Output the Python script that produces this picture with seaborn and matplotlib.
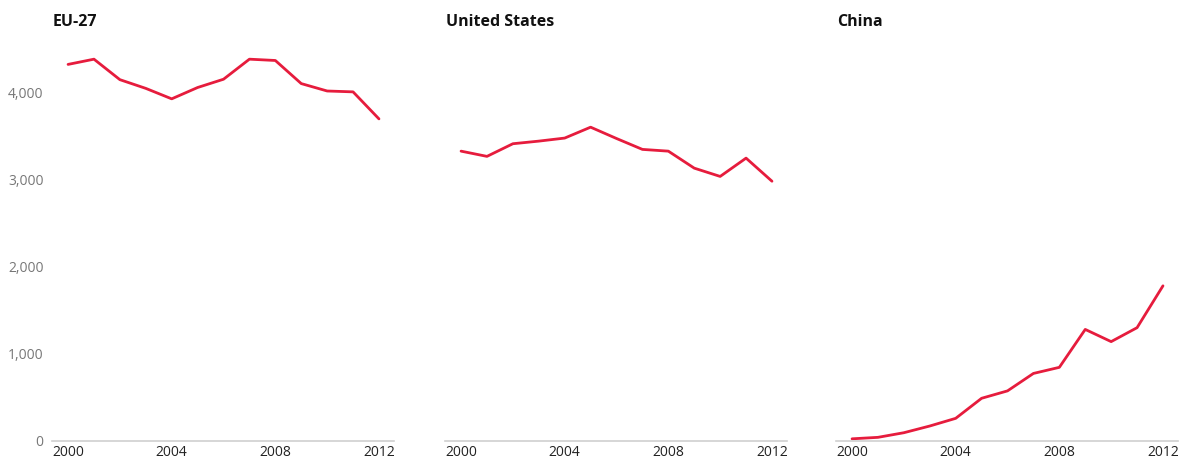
import numpy as np
import pandas as pd
import matplotlib
matplotlib.use("Agg")
import matplotlib.pyplot as plt
import seaborn as sns

years = list(range(2000, 2013))
regions = ["EU-27", "United States", "China"]
eu27 = [4320, 4380, 4145, 4045, 3925, 4055, 4150, 4380, 4365, 4100, 4015, 4005, 3695]
united_states = [3325, 3265, 3410, 3440, 3475, 3600, 3470, 3345, 3325, 3130, 3035, 3245, 2980]
china = [25, 42, 95, 172, 260, 490, 575, 775, 845, 1280, 1140, 1300, 1780]
y_ticks = [0, 1000, 2000, 3000, 4000]
x_ticks = [2000, 2004, 2008, 2012]

series = {"EU-27": eu27, "United States": united_states, "China": china}
df = pd.concat([pd.DataFrame({"year": years, "value": v, "region": k}) for k, v in series.items()])

sns.set_theme(style="white")
plt.rcParams["font.family"] = ["Liberation Sans Narrow", "Open Sans", "DejaVu Sans"]

fig = plt.figure(figsize=(11.82, 4.62), dpi=100)
lefts = [52 / 1182, 445 / 1182, 836 / 1182]
width = 342 / 1182
bottom = 1 - 441 / 462
height = (441 - 40) / 462
red = "#e61c3d"

for i, (reg, left) in enumerate(zip(regions, lefts)):
    ax = fig.add_axes([left, bottom, width, height])
    sns.lineplot(data=df[df.region == reg], x="year", y="value", ax=ax,
                 color=red, linewidth=2.0)
    ax.set_xlim(1999.38, 2012.58)
    ax.set_ylim(0, 4600)
    ax.set_xticks(x_ticks)
    ax.set_xticklabels([str(t) for t in x_ticks], fontsize=10, color="#222222")
    ax.set_yticks(y_ticks)
    if i == 0:
        ax.set_yticklabels([f"{t:,}" for t in y_ticks], fontsize=10, color="#777777")
    else:
        ax.set_yticklabels([])
    ax.tick_params(axis="both", length=0, pad=3)
    ax.tick_params(axis="y", pad=6)
    ax.set_xlabel("")
    ax.set_ylabel("")
    for s in ["top", "right", "left"]:
        ax.spines[s].set_visible(False)
    ax.spines["bottom"].set_color("#d0d0d0")
    ax.spines["bottom"].set_linewidth(1.2)
    ax.grid(False)
    fig.text(left + 1 / 1182, 1 - 22 / 462, reg, fontsize=11.5, fontweight="bold",
             color="#111111", ha="left", va="center")

fig.savefig("out.png", dpi=100)
